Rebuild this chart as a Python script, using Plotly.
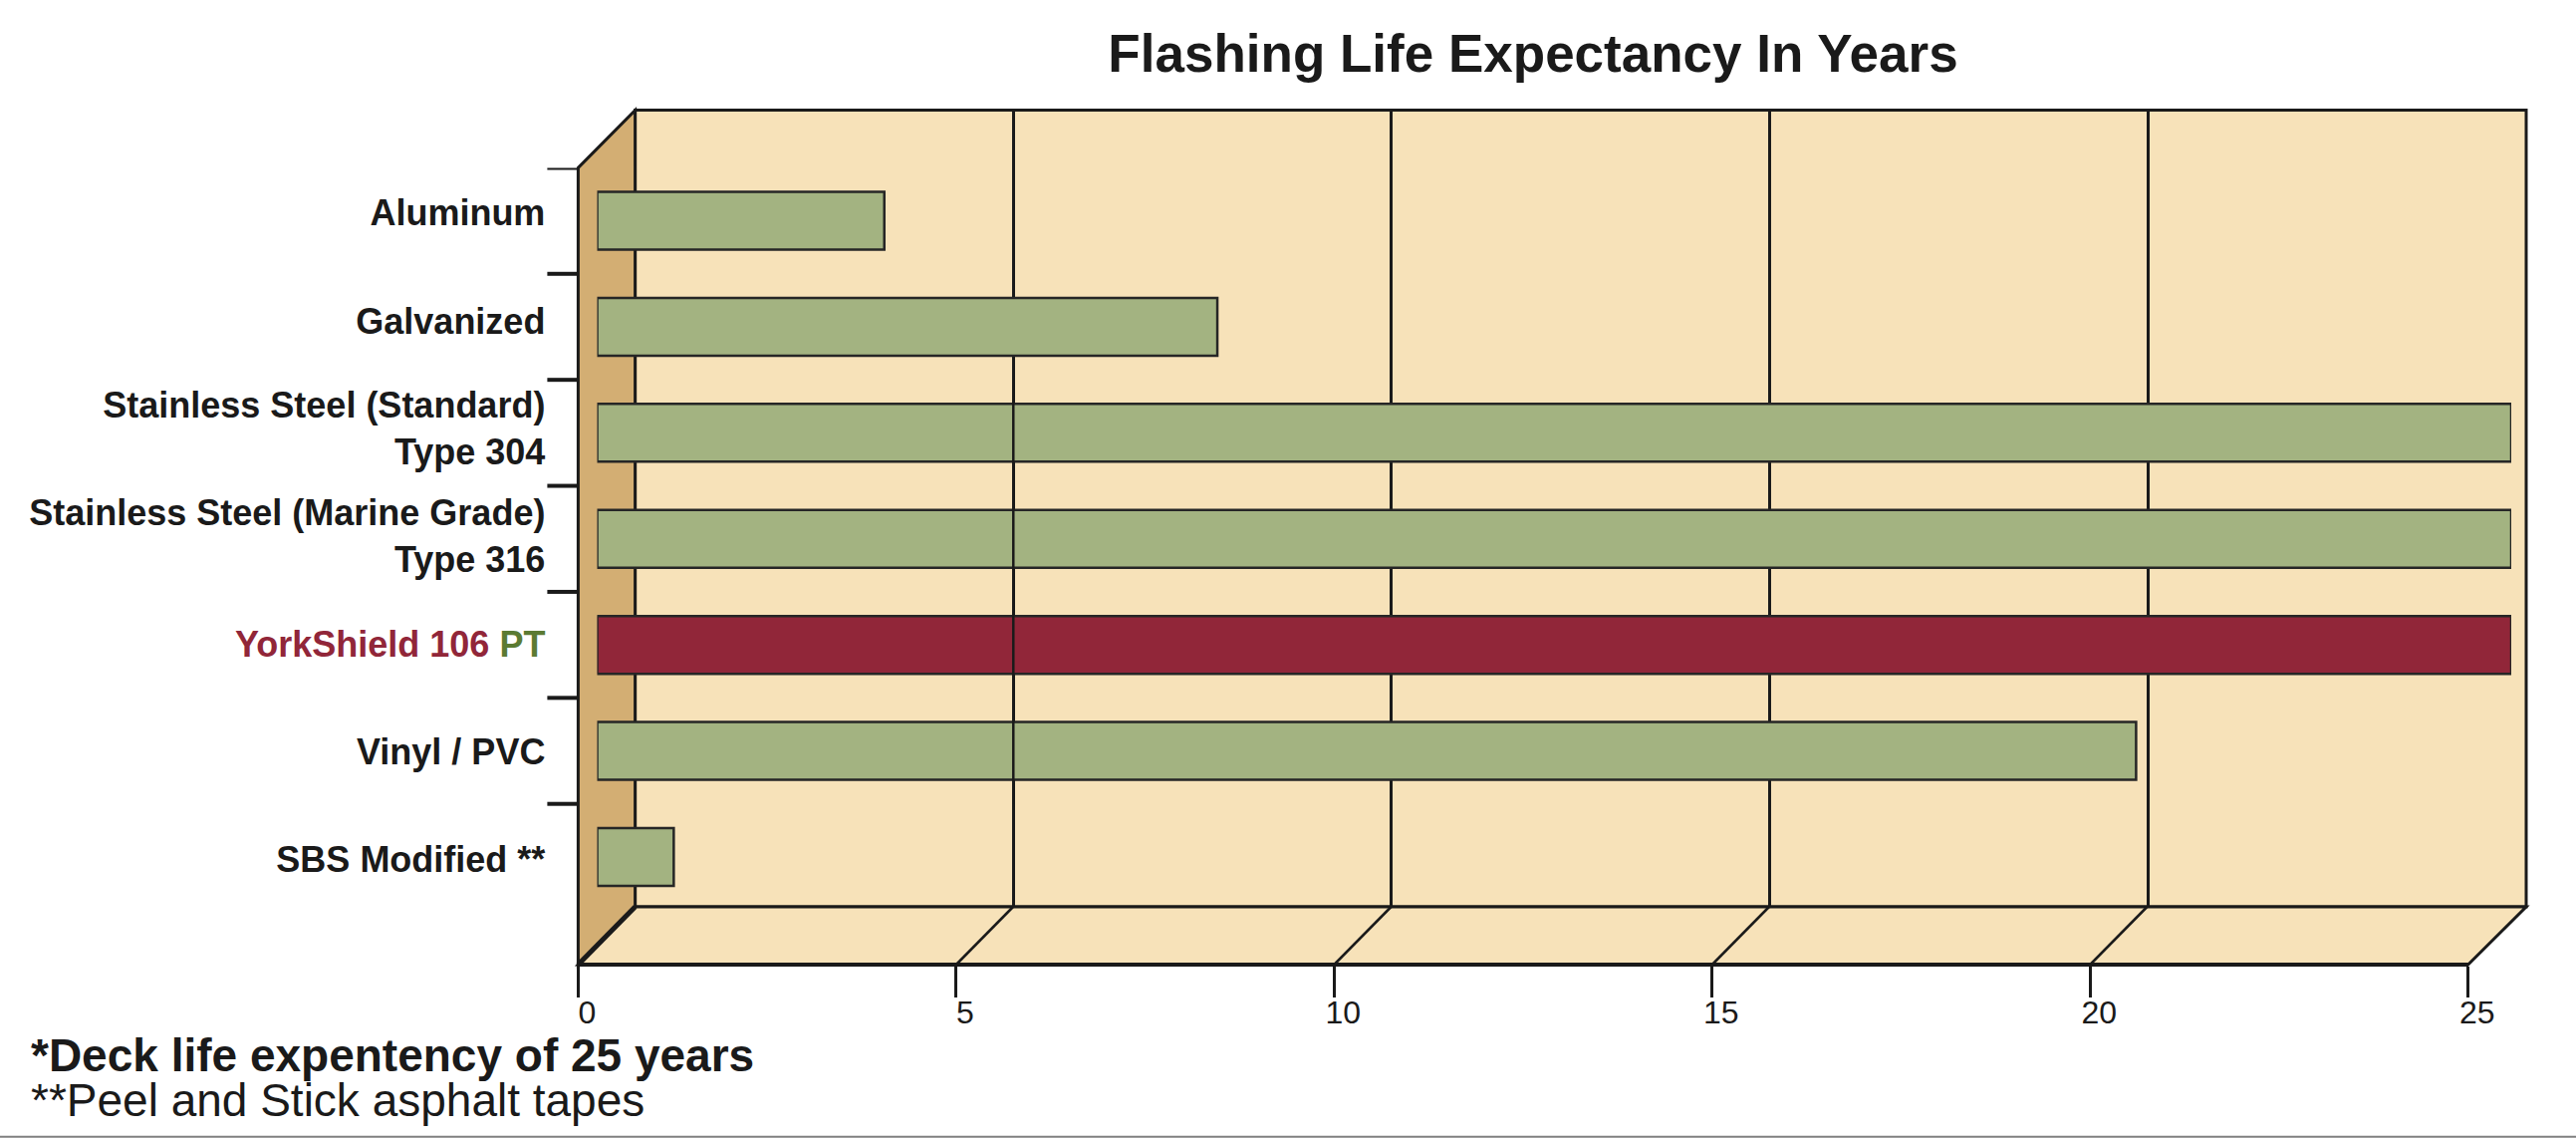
import plotly.graph_objects as go

# ---------------- data ----------------
categories = ["Aluminum", "Galvanized", "Stainless Steel (Standard) Type 304",
              "Stainless Steel (Marine Grade) Type 316", "YorkShield 106 PT",
              "Vinyl / PVC", "SBS Modified **"]
tick_labels = ["Aluminum", "Galvanized", "Stainless Steel (Standard)<br>Type 304",
               "Stainless Steel (Marine Grade)<br>Type 316",
               "<span style='color:#912639'>YorkShield 106</span> <span style='color:#5b7b33'>PT</span>",
               "Vinyl / PVC", "SBS Modified **"]
life_years = [3.75, 8.1, 25, 25, 25, 20.1, 1.0]
bar_colors = ["#a3b381", "#a3b381", "#a3b381", "#a3b381", "#912639", "#a3b381", "#a3b381"]
x_ticks = [0, 5, 10, 15, 20, 25]
title_text = "Flashing Life Expectancy In Years"
notes = ["<b>*Deck life expentency of 25 years</b>", "**Peel and Stick asphalt tapes"]

# ---------------- geometry (pixels) ----------------
W, H = 2586, 1142
def px(x): return x / W
def py(y): return 1 - y / H

FRONT_L, FRONT_R, FRONT_B, FRONT_T = 580.4, 2477.7, 968.0, 168.4
BACK_L, BACK_R, BACK_B, BACK_T = 637.6, 2536.0, 910.0, 110.6
BAR_L, BAR_R = 599.5, 2521.0
CAT_T, CAT_B = 168.4, 913.1
LAB_T, LAB_B = 159.7, 916.8
XMAX = 25
DEPTH_X = (BACK_L - FRONT_L) / ((FRONT_R - FRONT_L) / XMAX)   # depth offset in data units
N = len(categories)

WALL = "#f7e2b9"
SIDE = "#d3ae73"
INK = "#1a1a1a"
FONT = "Liberation Sans"

fig = go.Figure()

# back-wall grid subplot (x, y) -- drawn first so bars sit above its grid
fig.add_trace(go.Scatter(x=[None], y=[None], xaxis="x", yaxis="y",
                         showlegend=False, hoverinfo="skip"))
# bars (x2, y2)
fig.add_trace(go.Bar(
    y=categories, x=life_years, orientation="h", xaxis="x2", yaxis="y2",
    marker=dict(color=bar_colors, line=dict(color="#262626", width=2.5)),
    showlegend=False, hoverinfo="skip"))
# front axis subplot (x3, y3)
fig.add_trace(go.Scatter(x=[None], y=[None], xaxis="x3", yaxis="y3",
                         showlegend=False, hoverinfo="skip"))
# category label axis (x4, y4)
fig.add_trace(go.Scatter(x=[None], y=[None], xaxis="x4", yaxis="y4",
                         showlegend=False, hoverinfo="skip"))

shapes = []
# back wall
shapes.append(dict(type="rect", xref="paper", yref="paper", layer="below",
                   x0=px(BACK_L), x1=px(BACK_R), y0=py(BACK_B), y1=py(BACK_T),
                   fillcolor=WALL, line=dict(color=INK, width=3)))
# floor
shapes.append(dict(type="path", xref="paper", yref="paper", layer="below",
                   path=f"M{px(FRONT_L)},{py(FRONT_B)} L{px(FRONT_R)},{py(FRONT_B)} "
                        f"L{px(BACK_R)},{py(BACK_B)} L{px(BACK_L)},{py(BACK_B)} Z",
                   fillcolor=WALL, line=dict(color=INK, width=3)))
# side wall
shapes.append(dict(type="path", xref="paper", yref="paper", layer="below",
                   path=f"M{px(FRONT_L)},{py(FRONT_T)} L{px(BACK_L)},{py(BACK_T)} "
                        f"L{px(BACK_L)},{py(BACK_B)} L{px(FRONT_L)},{py(FRONT_B)} Z",
                   fillcolor=SIDE, line=dict(color=INK, width=3)))
# thicker diagonal at floor/side junction
shapes.append(dict(type="line", xref="paper", yref="paper", layer="below",
                   x0=px(FRONT_L), y0=py(FRONT_B), x1=px(BACK_L), y1=py(BACK_B),
                   line=dict(color=INK, width=5)))
# floor diagonals at each tick
for v in x_ticks[1:]:
    shapes.append(dict(type="line", xref="x3", yref="paper", layer="below",
                       x0=v, x1=v + DEPTH_X, y0=py(FRONT_B), y1=py(BACK_B),
                       line=dict(color=INK, width=2.5)))
# category tick marks at boundaries (top through last inner boundary)
for i in range(N):
    shapes.append(dict(type="line", xref="paper", yref="y2", layer="above",
                       x0=px(FRONT_L - 31), x1=px(FRONT_L), y0=i - 0.5, y1=i - 0.5,
                       line=dict(color=INK, width=4)))
# the 5-year gridline shows through the lower long bars in the original
shapes.append(dict(type="line", xref="x", yref="y2", layer="above",
                   x0=5, x1=5, y0=1.5, y1=5.5, line=dict(color=INK, width=2.5)))
# bottom separator
shapes.append(dict(type="line", xref="paper", yref="paper", layer="above",
                   x0=0, x1=1, y0=py(1140.8), y1=py(1140.8),
                   line=dict(color="#808080", width=2)))

annotations = [
    dict(text=notes[0], xref="paper", yref="paper", x=px(29), y=py(1059),
         xanchor="left", yanchor="middle", showarrow=False,
         font=dict(family=FONT, size=46, color=INK)),
    dict(text=notes[1], xref="paper", yref="paper", x=px(29), y=py(1104),
         xanchor="left", yanchor="middle", showarrow=False,
         font=dict(family=FONT, size=46, color=INK)),
]

fig.update_layout(
    width=W, height=H, autosize=False, margin=dict(l=0, r=0, t=0, b=0, pad=0),
    paper_bgcolor="white", plot_bgcolor="rgba(0,0,0,0)",
    title=dict(text=title_text, x=px(1539), y=py(53), xanchor="center", yanchor="middle",
               xref="paper", yref="paper", automargin=False,
               font=dict(family=FONT, size=53, color=INK, weight="bold")),
    bargap=0.455,
    shapes=shapes, annotations=annotations,
    # back wall grid
    xaxis=dict(domain=[px(BACK_L), px(BACK_R)], range=[0, XMAX], anchor="y",
               showgrid=True, gridcolor=INK, gridwidth=2.5, dtick=5, tick0=0,
               showticklabels=False, ticks="", zeroline=False, showline=False,
               automargin=False, fixedrange=True),
    yaxis=dict(domain=[py(BACK_B), py(BACK_T)], range=[0, 1], anchor="x",
               visible=False, automargin=False, fixedrange=True),
    # bars
    xaxis2=dict(domain=[px(BAR_L), px(BAR_R)], range=[0, XMAX], anchor="y2",
                visible=False, automargin=False, fixedrange=True),
    yaxis2=dict(domain=[py(CAT_B), py(CAT_T)], type="category",
                categoryorder="array", categoryarray=categories,
                range=[N - 0.5, -0.5], anchor="x2",
                visible=False, automargin=False, fixedrange=True),
    # front axis
    xaxis3=dict(domain=[px(FRONT_L), px(FRONT_R)], range=[0, XMAX], anchor="free",
                position=py(FRONT_B), tickmode="array", tickvals=x_ticks,
                ticks="outside", ticklen=31, tickwidth=3, tickcolor=INK,
                showline=True, linecolor=INK, linewidth=4, showgrid=False,
                zeroline=False, ticklabelshift=9, ticklabelstandoff=-12,
                automargin=False,
                tickfont=dict(family=FONT, size=32, color=INK), fixedrange=True),
    yaxis3=dict(domain=[py(FRONT_B), py(FRONT_T)], range=[0, 1], anchor="x3",
                visible=False, automargin=False, fixedrange=True),
    # category labels
    xaxis4=dict(domain=[px(FRONT_L), px(FRONT_R)], range=[0, 1], anchor="y4",
                visible=False, automargin=False, fixedrange=True),
    yaxis4=dict(domain=[py(LAB_B), py(LAB_T)], range=[N - 0.5, -0.5],
                anchor="free", position=px(FRONT_L), side="left",
                tickmode="array", tickvals=list(range(N)), ticktext=tick_labels,
                ticks="", showgrid=False, zeroline=False, showline=False,
                automargin=False,
                tickfont=dict(family=FONT, size=36, color=INK, weight="bold"),
                ticklabelstandoff=33, fixedrange=True),
)

fig.write_html("out.html", config={"displayModeBar": False, "responsive": False},
               post_script="document.body.style.margin='0';"
                           "document.body.style.overflow='hidden';")
